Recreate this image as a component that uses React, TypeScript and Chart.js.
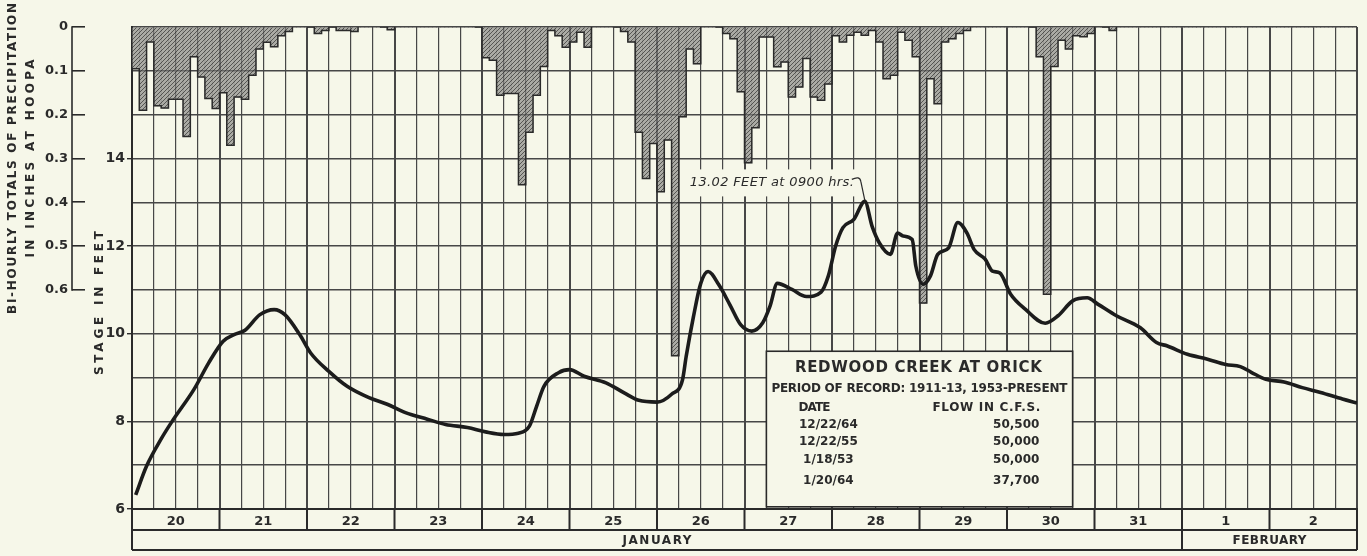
import React, { useEffect, useRef } from 'react';
import { Chart, registerables } from 'chart.js';

Chart.register(...registerables);

const PAPER = '#f6f7e9';
const INK = '#2a2a2a';
const GRID = '#474747';
const FONT = '"DejaVu Sans", "Liberation Sans", sans-serif';

// Calendar (hours counted from Jan 20, 00:00)
const dayLabels = ['20', '21', '22', '23', '24', '25', '26', '27', '28', '29', '30', '31', '1', '2'];
const monthLabels = ['JANUARY', 'FEBRUARY'];
const monthBoundaryHours = [0, 288, 336];

// Bi-hourly precipitation at Hoopa (inches), 12 bins per day
const precipJan20 = [0.095, 0.19, 0.034, 0.18, 0.185, 0.165, 0.165, 0.25, 0.068, 0.114, 0.163, 0.186];
const precipJan21 = [0.15, 0.27, 0.16, 0.165, 0.11, 0.05, 0.035, 0.045, 0.02, 0.01, 0, 0];
const precipJan22 = [0, 0.015, 0.008, 0, 0.008, 0.008, 0.01, 0, 0, 0, 0, 0.006];
const precipJan23 = [0, 0, 0, 0, 0, 0, 0, 0, 0, 0, 0, 0];
const precipJan24 = [0.07, 0.076, 0.156, 0.152, 0.152, 0.36, 0.24, 0.156, 0.09, 0.008, 0.02, 0.046];
const precipJan25 = [0.034, 0.012, 0.046, 0, 0, 0, 0, 0.01, 0.034, 0.24, 0.346, 0.266];
const precipJan26 = [0.376, 0.258, 0.75, 0.205, 0.05, 0.084, 0, 0, 0, 0.015, 0.027, 0.148];
const precipJan27 = [0.31, 0.23, 0.023, 0.023, 0.091, 0.08, 0.16, 0.137, 0.072, 0.16, 0.167, 0.13];
const precipJan28 = [0.02, 0.034, 0.019, 0.012, 0.019, 0.008, 0.034, 0.118, 0.11, 0.012, 0.03, 0.068];
const precipJan29 = [0.63, 0.118, 0.175, 0.034, 0.027, 0.015, 0.008, 0, 0, 0, 0, 0];
const precipJan30 = [0, 0, 0, 0, 0.068, 0.61, 0.09, 0.03, 0.05, 0.02, 0.022, 0.015];
const precipJan31 = [0, 0, 0.008, 0, 0, 0, 0, 0, 0, 0, 0, 0];
const precipFeb01 = [0, 0, 0, 0, 0, 0, 0, 0, 0, 0, 0, 0];
const precipFeb02 = [0, 0, 0, 0, 0, 0, 0, 0, 0, 0, 0, 0];

// Stage hydrograph, Redwood Creek at Orick
const stageHours = [
  1, 4, 8, 11, 17, 21, 25, 28, 31, 35, 39, 42, 46, 49, 54, 59, 65, 70, 75, 81,
  86, 92, 97, 102, 106, 109, 111, 113, 117, 120, 124, 130, 135, 139, 144, 148, 151, 152, 154, 156,
  158, 161, 164, 167, 170, 173, 175, 177, 181, 185, 189, 191, 193, 195, 198, 201, 203, 205, 208, 210,
  211.5, 214, 215, 217, 219, 221, 224, 226.5, 229, 231, 234, 236, 238, 241, 245, 250.5, 254, 258, 262, 265,
  270, 276.5, 281, 284, 289.5, 295, 300, 304, 307, 311, 316, 321, 326, 332, 336,
];
const stageFeet = [
  6.32, 6.98, 7.6, 8.0, 8.73, 9.33, 9.83, 9.98, 10.08, 10.43, 10.55, 10.43, 9.98, 9.56, 9.14, 8.8, 8.54, 8.39, 8.2, 8.05,
  7.93, 7.86, 7.76, 7.7, 7.73, 7.89, 8.35, 8.8, 9.11, 9.18, 9.03, 8.88, 8.65, 8.48, 8.44, 8.62, 8.95, 9.48, 10.39, 11.15,
  11.42, 11.11, 10.66, 10.2, 10.06, 10.25, 10.63, 11.15, 11.01, 10.85, 10.95, 11.32, 12.0, 12.42, 12.61, 13.02, 12.45, 12.07, 11.81, 12.3,
  12.23, 12.15, 11.54, 11.13, 11.32, 11.81, 11.96, 12.54, 12.3, 11.92, 11.7, 11.43, 11.39, 10.9, 10.56, 10.24, 10.41, 10.75, 10.82, 10.67,
  10.41, 10.14, 9.8, 9.72, 9.53, 9.42, 9.3, 9.25, 9.12, 8.96, 8.9, 8.77, 8.66, 8.51, 8.42,
];

const stageGridValues = [6, 7, 8, 9, 10, 11, 12, 13, 14, 15, 16, 17];
const stageTickLabels = [6, 8, 10, 12, 14];
const precipTickValues = [0, 0.1, 0.2, 0.3, 0.4, 0.5, 0.6];

const peakHour = 201;
const peakStage = 13.02;
const peakText = '13.02 FEET at 0900 hrs.';

const recordTitle = 'REDWOOD CREEK AT ORICK';
const recordPeriod = 'PERIOD OF RECORD: 1911-13, 1953-PRESENT';
const recordDates = ['12/22/64', '12/22/55', '1/18/53', '1/20/64'];
const recordFlows = ['50,500', '50,000', '50,000', '37,700'];

function fitText(ctx: CanvasRenderingContext2D, text: string, x: number, y: number, width: number, align: string) {
  ctx.save();
  (ctx as any).letterSpacing = '0px';
  const w0 = ctx.measureText(text).width;
  const n = text.length;
  const ls = n > 1 ? (width - w0) / (n - 1) : 0;
  (ctx as any).letterSpacing = ls + 'px';
  const left = align === 'left' ? x : align === 'center' ? x - width / 2 : x - width;
  ctx.textAlign = 'left';
  ctx.fillText(text, left, y);
  ctx.restore();
}

function rotatedText(ctx: CanvasRenderingContext2D, text: string, cx: number, cy: number, width: number) {
  ctx.save();
  ctx.translate(cx, cy);
  ctx.rotate(-Math.PI / 2);
  fitText(ctx, text, 0, 0, width, 'center');
  ctx.restore();
}

function makeHatch(): CanvasPattern | string {
  const c = document.createElement('canvas');
  c.width = 4;
  c.height = 4;
  const g = c.getContext('2d');
  if (!g) return 'rgba(130,130,130,0.7)';
  g.fillStyle = 'rgba(125,125,122,0.62)';
  g.fillRect(0, 0, 4, 4);
  g.strokeStyle = 'rgba(40,40,40,0.65)';
  g.lineWidth = 1;
  g.beginPath();
  g.moveTo(0, 4); g.lineTo(4, 0);
  g.moveTo(-1, 1); g.lineTo(1, -1);
  g.moveTo(3, 5); g.lineTo(5, 3);
  g.stroke();
  return g.createPattern(c, 'repeat') || 'rgba(130,130,130,0.7)';
}

const decorPlugin = {
  id: 'hydroDecor',
  afterDraw(chart: any) {
    const { ctx, chartArea } = chart;
    const x = chart.scales.x;
    const y = chart.scales.y;
    const yp = chart.scales.yp;
    ctx.save();
    ctx.strokeStyle = INK;
    ctx.fillStyle = INK;
    ctx.lineWidth = 1.6;

    // precipitation axis bracket
    const bx = yp.right - 13;
    ctx.beginPath();
    ctx.moveTo(bx, yp.getPixelForValue(0) - 0.8);
    ctx.lineTo(bx, yp.getPixelForValue(0.6) + 0.8);
    ctx.stroke();

    // axis titles
    ctx.font = `bold 12px ${FONT}`;
    ctx.textBaseline = 'middle';
    const pcy = yp.getPixelForValue(0.3);
    rotatedText(ctx, 'BI-HOURLY TOTALS OF PRECIPITATION', yp.left + 13, pcy, 311);
    rotatedText(ctx, 'IN INCHES AT HOOPA', yp.left + 31, pcy, 198);
    rotatedText(ctx, 'STAGE IN FEET', y.left + 15, y.getPixelForValue(10.7), 144);

    // calendar rows under the plot
    const top = chartArea.bottom;
    const r1 = top + 21;
    const r2 = top + 41;
    const left = x.getPixelForValue(0);
    const right = x.getPixelForValue(336);
    ctx.lineWidth = 2;
    ctx.beginPath();
    ctx.moveTo(left, top); ctx.lineTo(left, r2);
    ctx.moveTo(right, top); ctx.lineTo(right, r2);
    ctx.moveTo(left, r1); ctx.lineTo(right, r1);
    ctx.moveTo(left, r2); ctx.lineTo(right, r2);
    for (let d = 1; d < dayLabels.length; d++) {
      const px = x.getPixelForValue(d * 24);
      ctx.moveTo(px, top); ctx.lineTo(px, r1);
    }
    for (let m = 1; m < monthBoundaryHours.length - 1; m++) {
      const px = x.getPixelForValue(monthBoundaryHours[m]);
      ctx.moveTo(px, r1); ctx.lineTo(px, r2);
    }
    ctx.stroke();
    ctx.font = `bold 12px ${FONT}`;
    const monthWidths = [69, 74];
    for (let m = 0; m < monthLabels.length; m++) {
      const cx = (x.getPixelForValue(monthBoundaryHours[m]) + x.getPixelForValue(monthBoundaryHours[m + 1])) / 2;
      fitText(ctx, monthLabels[m], cx, (r1 + r2) / 2 + 1, monthWidths[m], 'center');
    }

    // record box
    const bl = x.getPixelForValue(174);
    const br = x.getPixelForValue(258);
    const bt = y.getPixelForValue(9.6);
    const bb = y.getPixelForValue(6.05);
    ctx.fillStyle = PAPER;
    ctx.fillRect(bl, bt, br - bl, bb - bt);
    ctx.lineWidth = 1.6;
    ctx.strokeRect(bl, bt, br - bl, bb - bt);
    ctx.fillStyle = INK;
    ctx.textBaseline = 'middle';
    ctx.font = `bold 15px ${FONT}`;
    fitText(ctx, recordTitle, bl + 152, bt + 17, 247, 'center');
    ctx.font = `bold 12px ${FONT}`;
    fitText(ctx, recordPeriod, bl + 5, bt + 38, 296, 'left');
    fitText(ctx, 'DATE', bl + 32, bt + 57, 32, 'left');
    fitText(ctx, 'FLOW IN C.F.S.', bl + 274, bt + 57, 108, 'right');
    const rowOffsets = [74, 91, 109, 130];
    for (let i = 0; i < recordDates.length; i++) {
      ctx.textAlign = 'center';
      ctx.fillText(recordDates[i], bl + 62, bt + rowOffsets[i]);
      ctx.textAlign = 'right';
      ctx.fillText(recordFlows[i], bl + 273, bt + rowOffsets[i]);
    }

    // peak annotation
    const px = x.getPixelForValue(peakHour);
    const py = y.getPixelForValue(peakStage);
    const tr = px - 11;
    const ty = py - 19;
    ctx.font = `italic 13px ${FONT}`;
    const tw = 164;
    ctx.fillStyle = PAPER;
    ctx.fillRect(tr - tw - 5, ty - 13, tw + 8, 27);
    ctx.fillStyle = INK;
    fitText(ctx, peakText, tr, ty, tw, 'right');
    ctx.lineWidth = 1.2;
    ctx.beginPath();
    ctx.moveTo(tr - 2, ty - 3);
    ctx.quadraticCurveTo(tr + 6, ty - 7, tr + 7, ty - 1);
    ctx.lineTo(px, py - 1);
    ctx.stroke();
    ctx.restore();
  },
};

export default function App() {
  const canvasRef = useRef<HTMLCanvasElement | null>(null);

  useEffect(() => {
    const canvas = canvasRef.current;
    if (!canvas) return;

    const bins: number[] = [
      precipJan20, precipJan21, precipJan22, precipJan23, precipJan24, precipJan25, precipJan26,
      precipJan27, precipJan28, precipJan29, precipJan30, precipJan31, precipFeb01, precipFeb02,
    ].flat();
    const barData = bins.map((v, i) => ({ x: i * 2 + 1, y: v }));
    const outlineData = bins.map((v, i) => ({ x: i * 2, y: v }));
    outlineData.push({ x: bins.length * 2, y: 0 });
    const stageData = stageHours.map((h, i) => ({ x: h, y: stageFeet[i] }));
    const hatch = makeHatch();

    const tickFont = { family: FONT, size: 13, weight: 'bold' as const };

    const chart = new Chart(canvas, {
      type: 'bar',
      data: {
        datasets: [
          {
            type: 'line',
            label: 'Stage',
            data: stageData,
            xAxisID: 'x',
            yAxisID: 'y',
            borderColor: '#1c1c1c',
            borderWidth: 3.6,
            pointRadius: 0,
            cubicInterpolationMode: 'monotone',
            order: 0,
          } as any,
          {
            type: 'line',
            label: 'Precipitation outline',
            data: outlineData,
            xAxisID: 'x',
            yAxisID: 'yp',
            stepped: 'before',
            borderColor: INK,
            borderWidth: 1.5,
            pointRadius: 0,
            segment: {
              borderColor: (c: any) => (c.p0.parsed.y === 0 && c.p1.parsed.y === 0 ? 'rgba(0,0,0,0)' : INK),
            },
            order: 1,
          } as any,
          {
            type: 'bar',
            label: 'Bi-hourly precipitation',
            data: barData,
            xAxisID: 'x',
            yAxisID: 'yp',
            backgroundColor: hatch,
            borderWidth: 0,
            barPercentage: 1,
            categoryPercentage: 1,
            order: 2,
          } as any,
        ],
      },
      options: {
        responsive: false,
        animation: false,
        events: [],
        layout: { padding: { top: 27, right: 10, bottom: 4, left: 0 } },
        plugins: { legend: { display: false }, tooltip: { enabled: false }, title: { display: false } },
        scales: {
          x: {
            type: 'linear',
            position: 'bottom',
            min: 0,
            max: 336,
            offset: false,
            afterBuildTicks: (s: any) => {
              const t = [];
              for (let h = 0; h <= 336; h += 6) t.push({ value: h });
              s.ticks = t;
            },
            afterFit: (s: any) => { s.height = 43; },
            grid: {
              offset: false,
              color: GRID,
              lineWidth: (c: any) => (c.tick && c.tick.value % 24 === 0 ? 2 : 1.2),
              drawTicks: false,
            },
            border: { display: true, color: INK, width: 2 },
            ticks: {
              autoSkip: false,
              maxRotation: 0,
              padding: 5,
              color: INK,
              font: tickFont,
              callback: (v: any) => (v % 24 === 12 ? dayLabels[(v - 12) / 24] : ''),
            },
          },
          y: {
            type: 'linear',
            position: 'left',
            weight: 0,
            min: 6,
            max: 17,
            afterBuildTicks: (s: any) => { s.ticks = stageGridValues.map((v) => ({ value: v })); },
            afterFit: (s: any) => { s.width = 47; },
            grid: {
              color: GRID,
              lineWidth: 1.4,
              tickLength: 5,
              tickColor: (c: any) => (c.tick && stageTickLabels.includes(c.tick.value) ? INK : 'rgba(0,0,0,0)'),
            },
            border: { display: true, color: INK, width: 2 },
            ticks: {
              autoSkip: false,
              padding: 2,
              color: INK,
              font: { family: FONT, size: 14, weight: 'bold' as const },
              callback: (v: any) => (stageTickLabels.includes(v) ? String(v) : ''),
            },
          },
          yp: {
            type: 'linear',
            position: 'left',
            weight: 1,
            reverse: true,
            min: 0,
            max: 1.1,
            afterBuildTicks: (s: any) => { s.ticks = precipTickValues.map((v) => ({ value: v })); },
            afterFit: (s: any) => { s.width = 85; },
            grid: { drawOnChartArea: false, tickLength: 13, color: INK, lineWidth: 1.6 },
            border: { display: false },
            ticks: {
              autoSkip: false,
              padding: 4,
              color: INK,
              font: tickFont,
              callback: (v: any) => (v === 0 ? '0' : Number(v).toFixed(1)),
            },
          },
        },
      } as any,
      plugins: [decorPlugin],
    });

    return () => chart.destroy();
  }, []);

  return (
    <div style={{ position: 'absolute', left: 0, top: 0, width: 1367, height: 556, background: PAPER }}>
      <canvas ref={canvasRef} width={1367} height={556} style={{ display: 'block' }} />
    </div>
  );
}
